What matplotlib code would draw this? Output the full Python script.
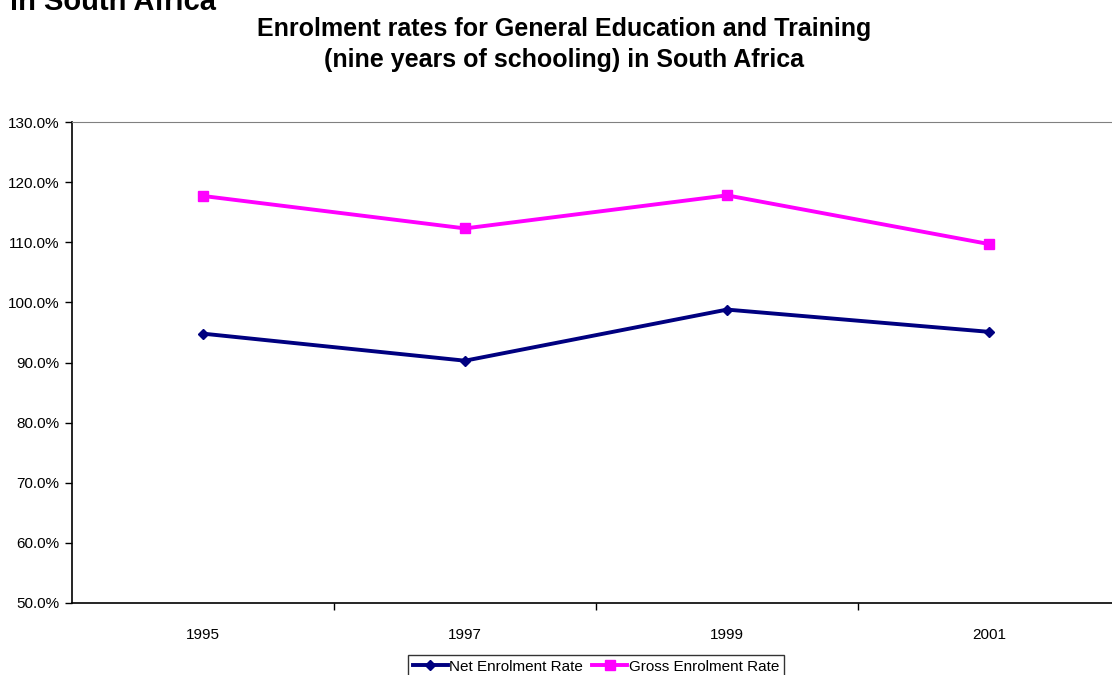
import numpy as np
import matplotlib
matplotlib.use("Agg")
import matplotlib.pyplot as plt
from matplotlib.ticker import FixedLocator, FuncFormatter

plt.rcParams['font.family'] = ['Liberation Sans', 'DejaVu Sans']

# data (percent)
years = ['1995', '1997', '1999', '2001']
net_rate = [94.8, 90.3, 98.8, 95.1]
gross_rate = [117.7, 112.3, 117.8, 109.7]

fig = plt.figure(figsize=(11.12, 6.75), dpi=100)
# plot area runs a little past the right edge of the picture, like the original
ax = fig.add_axes([72 / 1112, 1 - 603 / 675, 1048 / 1112, 481 / 675])

x = np.arange(len(years))
ax.plot(x, net_rate, '-D', color='#000080', lw=2.8, ms=5, label='Net Enrolment Rate')
ax.plot(x, gross_rate, '-s', color='#FF00FF', lw=2.8, ms=6.5, label='Gross Enrolment Rate')

ax.set_xlim(-0.5, len(years) - 0.5)
ax.set_ylim(50, 130)
ax.set_yticks(np.arange(50, 131, 10))
ax.yaxis.set_major_formatter(FuncFormatter(lambda v, p: '%.1f%%' % v))

# category labels centred, tick marks between categories
ax.set_xticks(x)
ax.set_xticklabels(years)
ax.tick_params(axis='x', which='major', length=0, pad=18, labelsize=11)
ax.xaxis.set_minor_locator(FixedLocator(np.arange(0.5, len(years) - 0.5, 1)))
ax.tick_params(axis='x', which='minor', length=5, width=1, direction='out')
ax.tick_params(axis='y', length=5, width=1, direction='out', labelsize=11, pad=4)

ax.spines['top'].set_color('#808080')
ax.spines['right'].set_visible(False)
for s in ['left', 'bottom']:
    ax.spines[s].set_color('black')
    ax.spines[s].set_linewidth(1.2)

fig.text(564 / 1112, 1 - 44.5 / 675,
         'Enrolment rates for General Education and Training\n(nine years of schooling) in South Africa',
         ha='center', va='center', fontsize=18, fontweight='bold', linespacing=1.32)
fig.text(10 / 1112, 1 - 10 / 675, 'in South Africa', ha='left', va='baseline',
         fontsize=21, fontweight='bold')

leg = fig.legend(loc='upper center', bbox_to_anchor=(596 / 1112, 1 - 655 / 675), ncol=2,
                 frameon=True, fancybox=False, edgecolor='black', fontsize=11,
                 handlelength=2.3, handletextpad=0.1, columnspacing=0.6,
                 borderpad=0.3, borderaxespad=0)
leg.get_frame().set_linewidth(1)

fig.savefig('out.png', dpi=100)
